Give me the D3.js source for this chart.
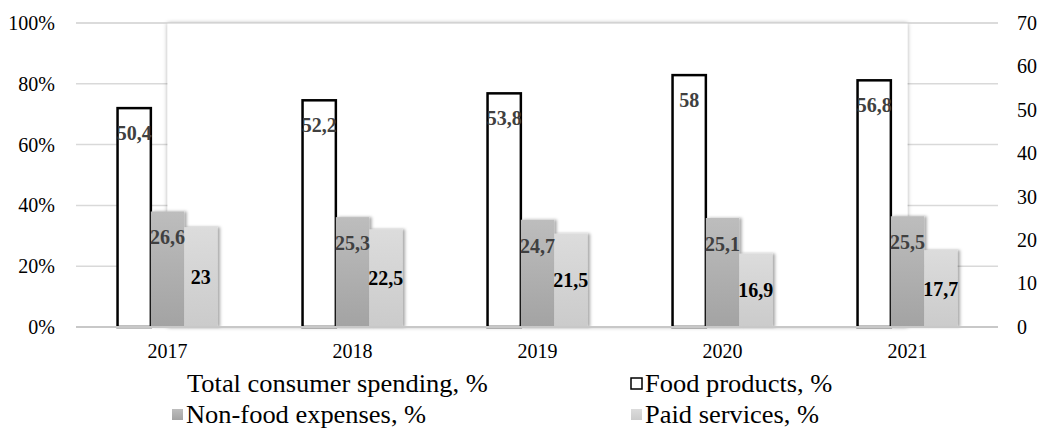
<!DOCTYPE html>
<html>
<head>
<meta charset="utf-8">
<script src="https://cdn.jsdelivr.net/npm/d3@7"></script>
<style>
  body { margin: 0; background: #fff; }
  text { font-family: "Liberation Serif", "Times New Roman", serif; }
</style>
</head>
<body>
<script>
var svgWidth = 1041;
var svgHeight = 432;

// data
var years = ['2017', '2018', '2019', '2020', '2021'];
var total = [100, 100, 100, 100, 100];
var food = [50.4, 52.2, 53.8, 58, 56.8];
var nonFood = [26.6, 25.3, 24.7, 25.1, 25.5];
var paid = [23, 22.5, 21.5, 16.9, 17.7];
var leftTicks = [0, 20, 40, 60, 80, 100];
var rightTicks = [0, 10, 20, 30, 40, 50, 60, 70];
var legendNames = ['Total consumer spending, %', 'Food products, %', 'Non-food expenses, %', 'Paid services, %'];

var x = d3.scaleBand().domain(years).range([75, 1000]);
var yL = d3.scaleLinear().domain([0, 100]).range([327, 23]);
var yR = d3.scaleLinear().domain([0, 70]).range([327, 23]);
var barW = 33.3;
var fmt = function(v){ return String(v).replace('.', ','); };

var svg = d3.select('body').append('svg')
	.attr('width', svgWidth)
	.attr('height', svgHeight);

var defs = svg.append('defs');
var g1 = defs.append('linearGradient').attr('id', 'gNon').attr('x1', 0).attr('y1', 0).attr('x2', 0).attr('y2', 1);
g1.append('stop').attr('offset', '0%').attr('stop-color', '#bdbdbd');
g1.append('stop').attr('offset', '100%').attr('stop-color', '#a3a3a3');
var g2 = defs.append('linearGradient').attr('id', 'gPaid').attr('x1', 0).attr('y1', 0).attr('x2', 0).attr('y2', 1);
g2.append('stop').attr('offset', '0%').attr('stop-color', '#dcdcdc');
g2.append('stop').attr('offset', '100%').attr('stop-color', '#cbcbcb');

var sh = defs.append('filter').attr('id', 'shadow').attr('x', '-20%').attr('y', '-5%').attr('width', '140%').attr('height', '110%');
sh.append('feDropShadow').attr('dx', 2.5).attr('dy', 0).attr('stdDeviation', 1.8).attr('flood-color', '#000').attr('flood-opacity', 0.35);
var sh2 = defs.append('filter').attr('id', 'areaShadow').attr('x', '-5%').attr('y', '-5%').attr('width', '110%').attr('height', '110%');
sh2.append('feDropShadow').attr('dx', 0).attr('dy', 0).attr('stdDeviation', 2).attr('flood-color', '#000').attr('flood-opacity', 0.35);

// gridlines
svg.selectAll('line.grid').data(leftTicks)
	.enter().append('line')
		.attr('class', 'grid')
		.attr('x1', 76).attr('x2', 998)
		.attr('y1', function(d){ return yL(d); })
		.attr('y2', function(d){ return yL(d); })
		.attr('stroke', '#d9d9d9')
		.attr('stroke-width', 1.5);

// total consumer spending area
var area = d3.area()
	.x(function(d, i){ return x(years[i]) + x.bandwidth()/2; })
	.y0(yL(0))
	.y1(function(d){ return yL(d); });
svg.append('path').datum(total)
	.attr('d', area)
	.attr('fill', '#fff')
	.attr('filter', 'url(#areaShadow)');

svg.append('line')
	.attr('x1', 76).attr('x2', 998)
	.attr('y1', yL(100)).attr('y2', yL(100))
	.attr('stroke', '#d9d9d9').attr('stroke-width', 1.5);

// bars
var series = [
	{vals: food, off: -1.5, fill: '#fff', stroke: '#000', filter: null},
	{vals: nonFood, off: -0.5, fill: 'url(#gNon)', stroke: 'none', filter: 'url(#shadow)'},
	{vals: paid, off: 0.5, fill: 'url(#gPaid)', stroke: 'none', filter: 'url(#shadow)'}
];
series.forEach(function(s){
	svg.append('g').selectAll('rect').data(s.vals)
		.enter().append('rect')
			.attr('x', function(d, i){ return x(years[i]) + x.bandwidth()/2 + s.off*barW; })
			.attr('y', function(d){ return yR(d); })
			.attr('width', barW)
			.attr('height', function(d){ return yR(0) - yR(d); })
			.attr('fill', s.fill)
			.attr('stroke', s.stroke)
			.attr('stroke-width', 2.5)
			.attr('filter', s.filter);
});

// axis line
svg.append('line')
	.attr('x1', 76).attr('x2', 998)
	.attr('y1', yL(0)).attr('y2', yL(0))
	.attr('stroke', '#c8c8c8').attr('stroke-width', 1.8);

// data labels
svg.append('g').selectAll('text').data(food)
	.enter().append('text')
		.attr('x', function(d, i){ return x(years[i]) + x.bandwidth()/2 - 1*barW; })
		.attr('y', function(d){ return yR(d) + 32; })
		.attr('text-anchor', 'middle')
		.attr('font-size', 20).attr('font-weight', 'bold').attr('fill', '#404040')
		.text(fmt);
svg.append('g').selectAll('text').data(nonFood)
	.enter().append('text')
		.attr('x', function(d, i){ return x(years[i]) + x.bandwidth()/2; })
		.attr('y', function(d){ return yR(d) + 33; })
		.attr('text-anchor', 'middle')
		.attr('font-size', 20).attr('font-weight', 'bold').attr('fill', '#404040')
		.text(fmt);
svg.append('g').selectAll('text').data(paid)
	.enter().append('text')
		.attr('x', function(d, i){ return x(years[i]) + x.bandwidth()/2 + 1*barW; })
		.attr('y', function(d){ return (yR(d) + yR(0))/2 + 7; })
		.attr('text-anchor', 'middle')
		.attr('font-size', 20).attr('font-weight', 'bold').attr('fill', '#000')
		.text(fmt);

// axes
var axL = svg.append('g').attr('transform', 'translate(55,0)')
	.call(d3.axisLeft(yL).tickValues(leftTicks).tickSize(0).tickPadding(0).tickFormat(function(d){ return d + '%'; }));
var axR = svg.append('g').attr('transform', 'translate(1017,0)')
	.call(d3.axisRight(yR).tickValues(rightTicks).tickSize(0).tickPadding(0));
var axB = svg.append('g').attr('transform', 'translate(0,' + yL(0) + ')')
	.call(d3.axisBottom(x).tickSize(0).tickPadding(17));
[axL, axR, axB].forEach(function(a){
	a.select('.domain').remove();
	a.selectAll('text').attr('font-size', 20).attr('fill', '#000')
		.style('font-family', '"Liberation Serif", "Times New Roman", serif');
});

// legend
var legend = [
	{name: legendNames[0], x: 173, y: 384, fill: '#fff', stroke: 'none'},
	{name: legendNames[1], x: 631, y: 384, fill: '#fff', stroke: '#000'},
	{name: legendNames[2], x: 172, y: 415, fill: 'url(#gNon)', stroke: 'none'},
	{name: legendNames[3], x: 631, y: 415, fill: 'url(#gPaid)', stroke: 'none'}
];
var lg = svg.append('g').selectAll('g').data(legend).enter().append('g');
lg.append('rect')
	.attr('x', function(d){ return d.x; })
	.attr('y', function(d){ return d.y - 6; })
	.attr('width', 11).attr('height', 11)
	.attr('fill', function(d){ return d.fill; })
	.attr('stroke', function(d){ return d.stroke; })
	.attr('stroke-width', 1.5);
lg.append('text')
	.attr('transform', function(d){ return 'translate(' + (d.x + 14) + ',' + (d.y + 8) + ') scale(1.08,1)'; })
	.attr('font-size', 24.5)
	.text(function(d){ return d.name; });
</script>
</body>
</html>
